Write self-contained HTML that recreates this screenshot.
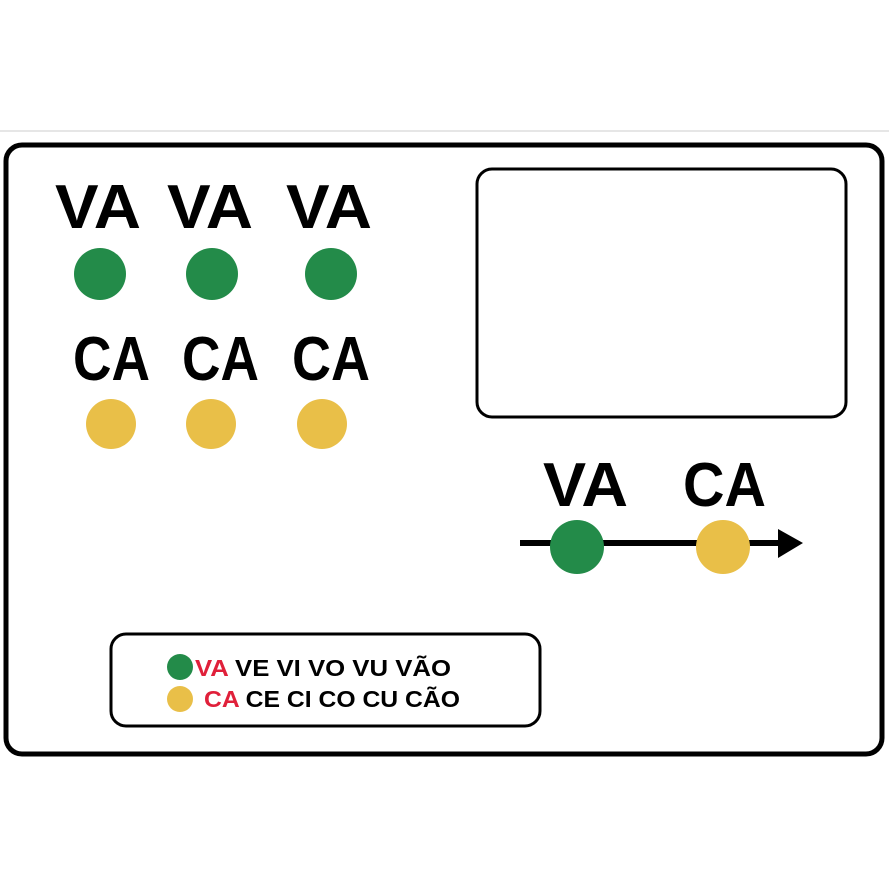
<!DOCTYPE html>
<html><head><meta charset="utf-8"><style>html,body{margin:0;padding:0;background:#fff}svg{display:block}</style></head>
<body>
<svg width="889" height="889" viewBox="0 0 889 889" xmlns="http://www.w3.org/2000/svg" font-family="Liberation Sans, sans-serif" font-weight="bold">
<rect x="0" y="0" width="889" height="889" fill="#fff"/>
<line x1="0" y1="131" x2="889" y2="131" stroke="#e6e6e6" stroke-width="2"/>
<rect x="6" y="145" width="876" height="609" rx="16" fill="#fff" stroke="#000" stroke-width="5"/>
<g font-size="62" fill="#000">
<text x="55" y="228" textLength="86" lengthAdjust="spacingAndGlyphs">VA</text>
<text x="167" y="228" textLength="86" lengthAdjust="spacingAndGlyphs">VA</text>
<text x="286" y="228" textLength="86" lengthAdjust="spacingAndGlyphs">VA</text>
<text x="73" y="380" textLength="77" lengthAdjust="spacingAndGlyphs">CA</text>
<text x="182" y="380" textLength="77" lengthAdjust="spacingAndGlyphs">CA</text>
<text x="292" y="380" textLength="78" lengthAdjust="spacingAndGlyphs">CA</text>
<text x="543" y="506" textLength="85" lengthAdjust="spacingAndGlyphs">VA</text>
<text x="683" y="506" textLength="83" lengthAdjust="spacingAndGlyphs">CA</text>
</g>
<g fill="#238b49">
<circle cx="100" cy="274" r="26"/><circle cx="212" cy="274" r="26"/><circle cx="331" cy="274" r="26"/>
</g>
<g fill="#e9bf48">
<circle cx="111" cy="424" r="25"/><circle cx="211" cy="424" r="25"/><circle cx="322" cy="424" r="25"/>
</g>
<rect x="477" y="169" width="369" height="248" rx="15" fill="#fff" stroke="#000" stroke-width="3"/>
<line x1="520" y1="543" x2="782" y2="543" stroke="#000" stroke-width="6"/>
<polygon points="778,529 803,543 778,558" fill="#000"/>
<circle cx="577" cy="547" r="27" fill="#238b49"/>
<circle cx="723" cy="547" r="27" fill="#e9bf48"/>
<rect x="111" y="634" width="429" height="92" rx="15" fill="#fff" stroke="#000" stroke-width="3"/>
<circle cx="180" cy="667" r="13" fill="#238b49"/>
<circle cx="180" cy="699" r="13" fill="#e9bf48"/>
<g font-size="23">
<text x="195" y="676" textLength="256" lengthAdjust="spacingAndGlyphs"><tspan fill="#e0203a">VA</tspan><tspan fill="#000"> VE  VI VO  VU VÃO</tspan></text>
<text x="204" y="707" textLength="256" lengthAdjust="spacingAndGlyphs"><tspan fill="#e0203a">CA</tspan><tspan fill="#000"> CE  CI CO  CU CÃO</tspan></text>
</g>
</svg>
</body></html>
